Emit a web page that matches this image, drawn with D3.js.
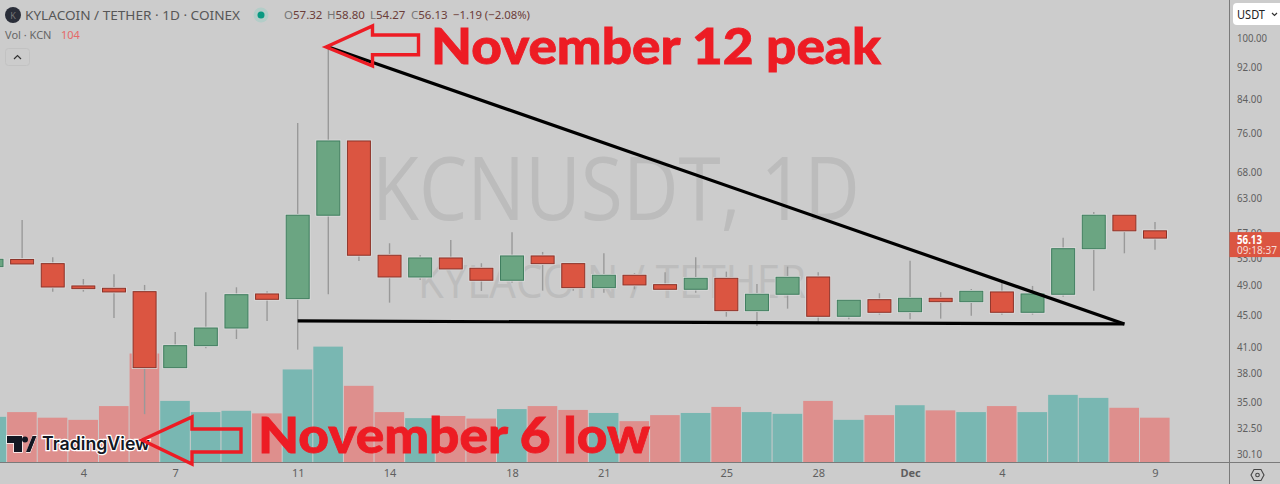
<!DOCTYPE html>
<html><head><meta charset="utf-8">
<script src="https://cdn.jsdelivr.net/npm/d3@7"></script>
<style>
html,body{margin:0;padding:0;background:#cccccc;overflow:hidden}
svg{display:block}
text{font-family:"Noto Sans",sans-serif}
.ax text{fill:#5f5f5f;font-family:"Noto Sans",sans-serif}
</style></head><body>
<div id="chart"></div>
<script>
const days=["1","2","3","4","5","6","7","8","9","10","11","12","13","14","15","16","17","18","19","20","21","22","23","24","25","26","27","28","29","30","Dec","2","3","4","5","6","7","8","9"];
const opens =[51.69,52.77,52.14,48.89,48.56,48.09,38.62,41.15,43.30,47.77,47.13,59.96,74.29,53.42,50.17,53.00,51.45,49.70,53.31,52.14,48.65,50.42,49.07,48.42,49.98,45.52,47.73,50.17,44.79,46.99,45.39,47.18,46.72,48.05,45.31,47.73,54.44,59.96,57.32];
const highs =[53.00,59.15,53.11,49.88,50.57,49.03,42.81,48.01,48.70,48.14,78.25,97.44,74.29,55.30,53.46,55.83,52.20,57.08,53.93,52.14,53.72,50.72,50.86,53.11,50.95,49.17,51.69,50.86,47.09,47.87,52.59,48.01,48.47,49.50,48.89,56.20,60.53,60.18,58.80];
const lows  =[51.50,52.09,48.09,48.09,44.57,33.77,38.62,40.84,41.95,44.19,40.68,47.73,52.55,46.59,49.74,51.35,48.19,49.35,48.23,48.23,47.95,48.42,48.47,47.95,44.74,43.55,45.79,43.81,44.41,45.00,44.41,44.49,44.86,45.00,45.00,47.40,48.23,53.72,54.27];
const closes=[52.80,52.09,48.74,48.51,48.05,38.62,41.15,43.30,47.67,47.04,59.96,74.29,53.42,50.17,53.00,51.35,49.70,53.31,52.14,48.65,50.42,49.03,48.42,49.98,45.52,47.73,50.13,44.79,46.91,45.31,47.18,46.72,48.14,45.31,47.77,54.44,59.96,57.32,56.13];
const volumes=[106,117,104,99,131,253,143,117,120,114,216,269,178,117,103,108,102,124,131,122,115,96,110,115,129,117,113,143,99,110,133,121,117,131,117,157,150,127,104];
const priceTicks=[100,92,84,76,68,63,57,53,49,45,41,38,35,32.5,30.1];
const timeTicks=[3,6,10,13,17,20,24,27,30,33,38];
const trendIdx=[11,37], trendPrice=[97.44,43.81];
const floorIdx=[10,37], floorPrice=[44.19,43.81];

const W=1280,H=484,axisX=1229.5,axisY=462.5;
const RED="#ed1c24";
const svg=d3.select("#chart").append("svg").attr("width",W).attr("height",H);
svg.append("rect").attr("width",W).attr("height",H).attr("fill","#cccccc");

const x=d3.scaleLinear().domain([0,38]).range([-8.5,1155]);
const y=d3.scaleLog().domain([100,30.1]).range([38,454]);
const v=d3.scaleLinear().domain([0,104]).range([axisY,417.7]);

// watermarks
const plot=svg.append("g");
plot.append("text").attr("x",372).attr("y",220).attr("font-size",87).attr("textLength",488).attr("lengthAdjust","spacingAndGlyphs")
  .attr("fill","#bcbcbc").style("font-family","'Open Sans',sans-serif").text("KCNUSDT, 1D");
plot.append("text").attr("x",418).attr("y",298).attr("font-size",46).attr("textLength",388).attr("lengthAdjust","spacingAndGlyphs")
  .attr("fill","#bdbdbd").style("font-family","'Open Sans',sans-serif").text("KYLACOIN / TETHER");

// volume
const idx=d3.range(days.length);
const up=i=>closes[i]>=opens[i];
plot.append("g").selectAll("rect").data(idx).join("rect")
  .attr("x",i=>x(i)-15).attr("width",29.6)
  .attr("y",i=>v(volumes[i])).attr("height",i=>axisY-v(volumes[i]))
  .attr("fill",i=>up(i)?"#79b7b2":"#de8f8d");

// wicks
plot.append("g").selectAll("line").data(idx).join("line")
  .attr("x1",i=>x(i)).attr("x2",i=>x(i))
  .attr("y1",i=>y(highs[i])).attr("y2",i=>y(lows[i]))
  .attr("stroke","#999999").attr("stroke-width",1.4);

// candle halos and bodies
const bodyTop=i=>y(Math.max(opens[i],closes[i])), bodyBot=i=>y(Math.min(opens[i],closes[i]));
plot.append("g").selectAll("rect").data(idx).join("rect")
  .attr("x",i=>x(i)-11.5).attr("width",23).attr("y",bodyTop).attr("height",i=>bodyBot(i)-bodyTop(i))
  .attr("fill","none").attr("stroke","#dcdcdc").attr("stroke-width",2.6);
plot.append("g").selectAll("rect").data(idx).join("rect")
  .attr("x",i=>x(i)-11.5).attr("width",23).attr("y",bodyTop).attr("height",i=>bodyBot(i)-bodyTop(i))
  .attr("fill",i=>up(i)?"#6ba582":"#db5541")
  .attr("stroke",i=>up(i)?"#3f7d5e":"#8c3228").attr("stroke-width",1);

// trend lines
const ln=d3.line().x(d=>x(d[0])).y(d=>y(d[1]));
plot.append("path").attr("d",ln(d3.zip(trendIdx,trendPrice))).attr("fill","none").attr("stroke","#000").attr("stroke-width",3.2);
plot.append("path").attr("d",ln(d3.zip(floorIdx,floorPrice))).attr("fill","none").attr("stroke","#000").attr("stroke-width",3.2);

// axes
svg.append("line").attr("x1",0).attr("x2",W).attr("y1",axisY).attr("y2",axisY).attr("stroke","#7a7a7a");
svg.append("line").attr("x1",axisX).attr("x2",axisX).attr("y1",0).attr("y2",H).attr("stroke","#7a7a7a");
const ya=svg.append("g").attr("class","ax").attr("transform",`translate(${axisX},0)`)
  .call(d3.axisRight(y).tickValues(priceTicks).tickSize(0).tickPadding(7.5).tickFormat(d=>d.toFixed(2)));
ya.select(".domain").remove();
ya.selectAll("text").attr("font-size",11.5).attr("lengthAdjust","spacingAndGlyphs").attr("textLength",d=>d>=100?30:25);
const xa=svg.append("g").attr("class","ax").attr("transform",`translate(0,${axisY})`)
  .call(d3.axisBottom(x).tickValues(timeTicks).tickSize(0).tickPadding(7).tickFormat(i=>days[i]));
xa.select(".domain").remove();
xa.selectAll("text").attr("font-size",11).attr("font-weight",i=>days[i]==="Dec"?700:400);

// last price tag
svg.append("rect").attr("x",axisX).attr("y",y(56.13)-6).attr("width",W-axisX).attr("height",25).attr("fill","#db5541");
svg.append("text").attr("x",1237).attr("y",243.500).attr("font-size",11.5).attr("font-weight",700).attr("fill","#fff").attr("textLength",25).attr("lengthAdjust","spacingAndGlyphs").text(closes[38].toFixed(2));
svg.append("text").attr("x",1237).attr("y",254).attr("font-size",11).attr("fill","#f7dcd8").attr("textLength",40).attr("lengthAdjust","spacingAndGlyphs").text("09:18:37");

// currency button
svg.append("rect").attr("x",1233).attr("y",3).attr("width",52).attr("height",22).attr("rx",4).attr("fill","#fff");
svg.append("text").attr("x",1237).attr("y",18.5).attr("font-size",13).attr("fill","#222").attr("textLength",28).attr("lengthAdjust","spacingAndGlyphs").text("USDT");
svg.append("path").attr("d","M1272 13l2.500 2.500 2.500-2.500").attr("fill","none").attr("stroke","#333").attr("stroke-width",1.2);

// settings icon
svg.append("path").attr("d","M1251 475l3-5.500h7l3 5.500-3 5.500h-7z").attr("fill","none").attr("stroke","#444").attr("stroke-width",1.1);
svg.append("circle").attr("cx",1257.5).attr("cy",475).attr("r",1.8).attr("fill","none").attr("stroke","#444").attr("stroke-width",1.1);

// header
svg.append("circle").attr("cx",13).attr("cy",15).attr("r",8).attr("fill","#2a2e39");
svg.append("text").attr("x",13).attr("y",18.5).attr("text-anchor","middle").attr("font-size",9).attr("fill","#777").text("K");
svg.append("text").attr("x",25).attr("y",20).attr("font-size",13).attr("fill","#575757").attr("textLength",215).attr("lengthAdjust","spacingAndGlyphs").text("KYLACOIN / TETHER · 1D · COINEX");
svg.append("circle").attr("cx",261).attr("cy",15).attr("r",7.5).attr("fill","#b3cdc8");
svg.append("circle").attr("cx",261).attr("cy",15).attr("r",3.5).attr("fill","#089981");
const hdrItems=[["O","57.32",284],["H","58.80",327],["L","54.27",370],["C","56.13",411]];
hdrItems.forEach(([k,val,px])=>{
  const t=svg.append("text").attr("x",px).attr("y",19).attr("font-size",11.5).attr("fill","#6b3d39");
  t.append("tspan").attr("fill","#777").text(k);
  t.append("tspan").text(val);
});
svg.append("text").attr("x",453).attr("y",19).attr("font-size",11.5).attr("fill","#6b3d39").attr("textLength",77).attr("lengthAdjust","spacingAndGlyphs").text("−1.19 (−2.08%)");
svg.append("text").attr("x",5).attr("y",39).attr("font-size",11).attr("fill","#666").text("Vol · KCN");
svg.append("text").attr("x",61).attr("y",39).attr("font-size",11).attr("fill","#e46a68").text(volumes[38]);
svg.append("rect").attr("x",5.5).attr("y",48.5).attr("width",24).attr("height",17).attr("rx",3).attr("fill","none").attr("stroke","#c2c2c2");
svg.append("path").attr("d","M14 59l3.500-3.500 3.500 3.500").attr("fill","none").attr("stroke","#333").attr("stroke-width",1.2);

// TradingView logo
const tv=svg.append("g");
tv.append("path").attr("d","M7 436h15v16h-8v-9H7zM27 452l6-16h3l0 0-6 16z").attr("fill","#131722").attr("stroke","#fff").attr("stroke-width",1.5).attr("paint-order","stroke");
tv.append("path").attr("d","M26 452l6.500-16h4l-6.500 16z").attr("fill","#131722");
tv.append("circle").attr("cx",25).attr("cy",439.5).attr("r",3).attr("fill","#131722");
tv.append("text").attr("x",42).attr("y",450).attr("font-size",18).attr("font-weight",600).attr("fill","#131722")
  .attr("stroke","#fff").attr("stroke-width",2.5).attr("paint-order","stroke").attr("textLength",108).attr("lengthAdjust","spacingAndGlyphs").style("font-family","Inter,sans-serif").text("TradingView");

// red annotations
const arrow=d3.line();
svg.append("path").attr("d",arrow([[326,47],[372.5,26],[372.5,35],[418.5,35],[418.5,54.7],[372.5,54.7],[372.5,66]])+"Z")
  .attr("fill","none").attr("stroke",RED).attr("stroke-width",3.4);
svg.append("path").attr("d",arrow([[142,440],[192,417],[192,429],[241,429],[241,452],[192,452],[192,464]])+"Z")
  .attr("fill","none").attr("stroke",RED).attr("stroke-width",3.4);
const lab=(t,xx,yy,l)=>svg.append("text").attr("x",xx).attr("y",yy).attr("font-size",50).attr("font-weight",900)
  .attr("fill",RED).attr("stroke",RED).attr("stroke-width",0.8).attr("textLength",l).attr("lengthAdjust","spacingAndGlyphs").style("font-family","Lato,sans-serif").text(t);
lab("November 12 peak",431,63.5,450);
lab("November 6 low",258,453,392);
</script>
</body></html>
